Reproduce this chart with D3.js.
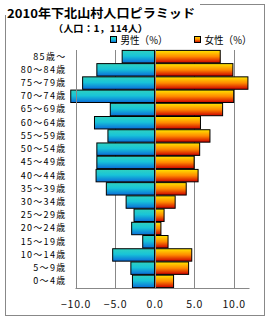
<!DOCTYPE html>
<html>
<head>
<meta charset="utf-8">
<script src="https://cdn.jsdelivr.net/npm/d3@7"></script>
<style>
  body { margin: 0; background: #fff; }
  svg { display: block; font-family: "Noto Sans CJK JP", "Noto Sans", sans-serif; }
</style>
</head>
<body>
<svg id="chart" width="270" height="320"></svg>
<script>
// age groups, top to bottom
var ageGroups = ["85歳〜", "80〜84歳", "75〜79歳", "70〜74歳", "65〜69歳", "60〜64歳",
  "55〜59歳", "50〜54歳", "45〜49歳", "40〜44歳", "35〜39歳", "30〜34歳",
  "25〜29歳", "20〜24歳", "15〜19歳", "10〜14歳", "5〜9歳", "0〜4歳"];
// percent of each sex
var male = [4.1, 7.3, 9.1, 10.6, 5.6, 7.6, 5.9, 7.3, 7.3, 7.4, 6.1, 3.6, 2.6, 2.9, 1.5, 5.3, 3.0, 2.8];
var female = [8.3, 9.9, 11.8, 10.0, 8.6, 5.8, 7.0, 5.7, 5.0, 5.5, 4.0, 2.6, 1.2, 0.8, 1.7, 4.7, 4.3, 2.4];
var xTicks = [-10, -5, 0, 5, 10];

var svg = d3.select("#chart");

var x = d3.scaleLinear().domain([-10, 12]).range([75.5, 249.5]);
var y = d3.scaleBand().domain(ageGroups).range([50, 288]).paddingInner(0.06).paddingOuter(0.03);

var defs = svg.append("defs");
var gm = defs.append("linearGradient").attr("id", "gMale")
    .attr("x1", 0).attr("y1", 0).attr("x2", 0).attr("y2", 1);
gm.append("stop").attr("offset", "0%").attr("stop-color", "#30d2c0");
gm.append("stop").attr("offset", "45%").attr("stop-color", "#18c4d8");
gm.append("stop").attr("offset", "100%").attr("stop-color", "#0a6cd8");
var gf = defs.append("linearGradient").attr("id", "gFemale")
    .attr("x1", 0).attr("y1", 0).attr("x2", 0).attr("y2", 1);
gf.append("stop").attr("offset", "0%").attr("stop-color", "#ffe600");
gf.append("stop").attr("offset", "50%").attr("stop-color", "#ff8a00");
gf.append("stop").attr("offset", "100%").attr("stop-color", "#cc0000");

// outer frame
svg.append("rect")
    .attr("x", 5.5).attr("y", 4.5).attr("width", 259).attr("height", 311)
    .attr("fill", "#fff").attr("stroke", "#888").attr("stroke-width", 1);

// title
svg.append("rect").attr("x", 0).attr("y", 0).attr("width", 200).attr("height", 15).attr("fill", "#fff");
svg.append("text")
    .attr("x", 7).attr("y", 17.5)
    .attr("font-size", 12).attr("font-weight", "bold")
    .attr("textLength", 188).attr("lengthAdjust", "spacingAndGlyphs")
    .text("2010年下北山村人口ピラミッド");
svg.append("text")
    .attr("x", 53).attr("y", 31.5)
    .attr("font-size", 9.5).attr("font-weight", "bold")
    .attr("textLength", 95).attr("lengthAdjust", "spacingAndGlyphs")
    .text("（人口：1，114人）");

// legend
var legend = [
  { label: "男性（%）", fill: "url(#gMale)", x: 110.5 },
  { label: "女性（%）", fill: "url(#gFemale)", x: 194.5 }
];
var lg = svg.selectAll("g.legend").data(legend).enter().append("g").attr("class", "legend");
lg.append("rect")
    .attr("x", function(d) { return d.x; }).attr("y", 36.5)
    .attr("width", 6).attr("height", 6)
    .attr("fill", function(d) { return d.fill; }).attr("stroke", "#000");
lg.append("text")
    .attr("x", function(d) { return d.x + 10; }).attr("y", 43.5)
    .attr("font-size", 10.5)
    .attr("textLength", 47).attr("lengthAdjust", "spacingAndGlyphs")
    .text(function(d) { return d.label; });

// gridlines
svg.append("g").selectAll("line")
    .data(xTicks.slice(1))
    .enter().append("line")
    .attr("x1", function(d) { return Math.round(x(d)) + 0.5; })
    .attr("x2", function(d) { return Math.round(x(d)) + 0.5; })
    .attr("y1", 50).attr("y2", 288)
    .attr("stroke", "#888");

// bars
svg.append("g").selectAll("rect")
    .data(male)
    .enter().append("rect")
    .attr("x", function(d) { return x(-d); })
    .attr("y", function(d, i) { return y(ageGroups[i]); })
    .attr("width", function(d) { return x(0) - x(-d); })
    .attr("height", y.bandwidth())
    .attr("fill", "url(#gMale)").attr("stroke", "#000").attr("stroke-width", 1);

svg.append("g").selectAll("rect")
    .data(female)
    .enter().append("rect")
    .attr("x", x(0))
    .attr("y", function(d, i) { return y(ageGroups[i]); })
    .attr("width", function(d) { return x(d) - x(0); })
    .attr("height", y.bandwidth())
    .attr("fill", "url(#gFemale)").attr("stroke", "#000").attr("stroke-width", 1);

// zero line on top
svg.append("line")
    .attr("x1", Math.round(x(0)) + 0.5).attr("x2", Math.round(x(0)) + 0.5)
    .attr("y1", 50).attr("y2", 288)
    .attr("stroke", "#888");

// y axis
var yAxis = d3.axisLeft(y).tickSize(0).tickPadding(10);
var ya = svg.append("g")
    .attr("transform", "translate(" + (Math.round(x(-10)) + 0.5) + ",0)")
    .call(yAxis);
ya.select(".domain").attr("stroke", "#888").attr("d", "M0,50V288");
ya.selectAll("text").attr("font-size", 9).attr("letter-spacing", "1.3px")
    .attr("font-family", "\"Noto Sans CJK JP\", sans-serif").attr("fill", "#000");

// x axis
var xAxis = d3.axisBottom(x).tickValues(xTicks).tickSize(0).tickPadding(12)
    .tickFormat(function(d) { return (d < 0 ? "−" : "") + Math.abs(d).toFixed(1); });
var xa = svg.append("g")
    .attr("transform", "translate(0,288.5)")
    .call(xAxis);
xa.select(".domain").attr("stroke", "#888").attr("d", "M" + x(-10) + ",0H" + x(12));
xa.selectAll("text").attr("font-size", 10.5).attr("letter-spacing", "0.8px")
    .attr("font-family", "\"Noto Sans CJK JP\", sans-serif").attr("fill", "#111");
</script>
</body>
</html>
